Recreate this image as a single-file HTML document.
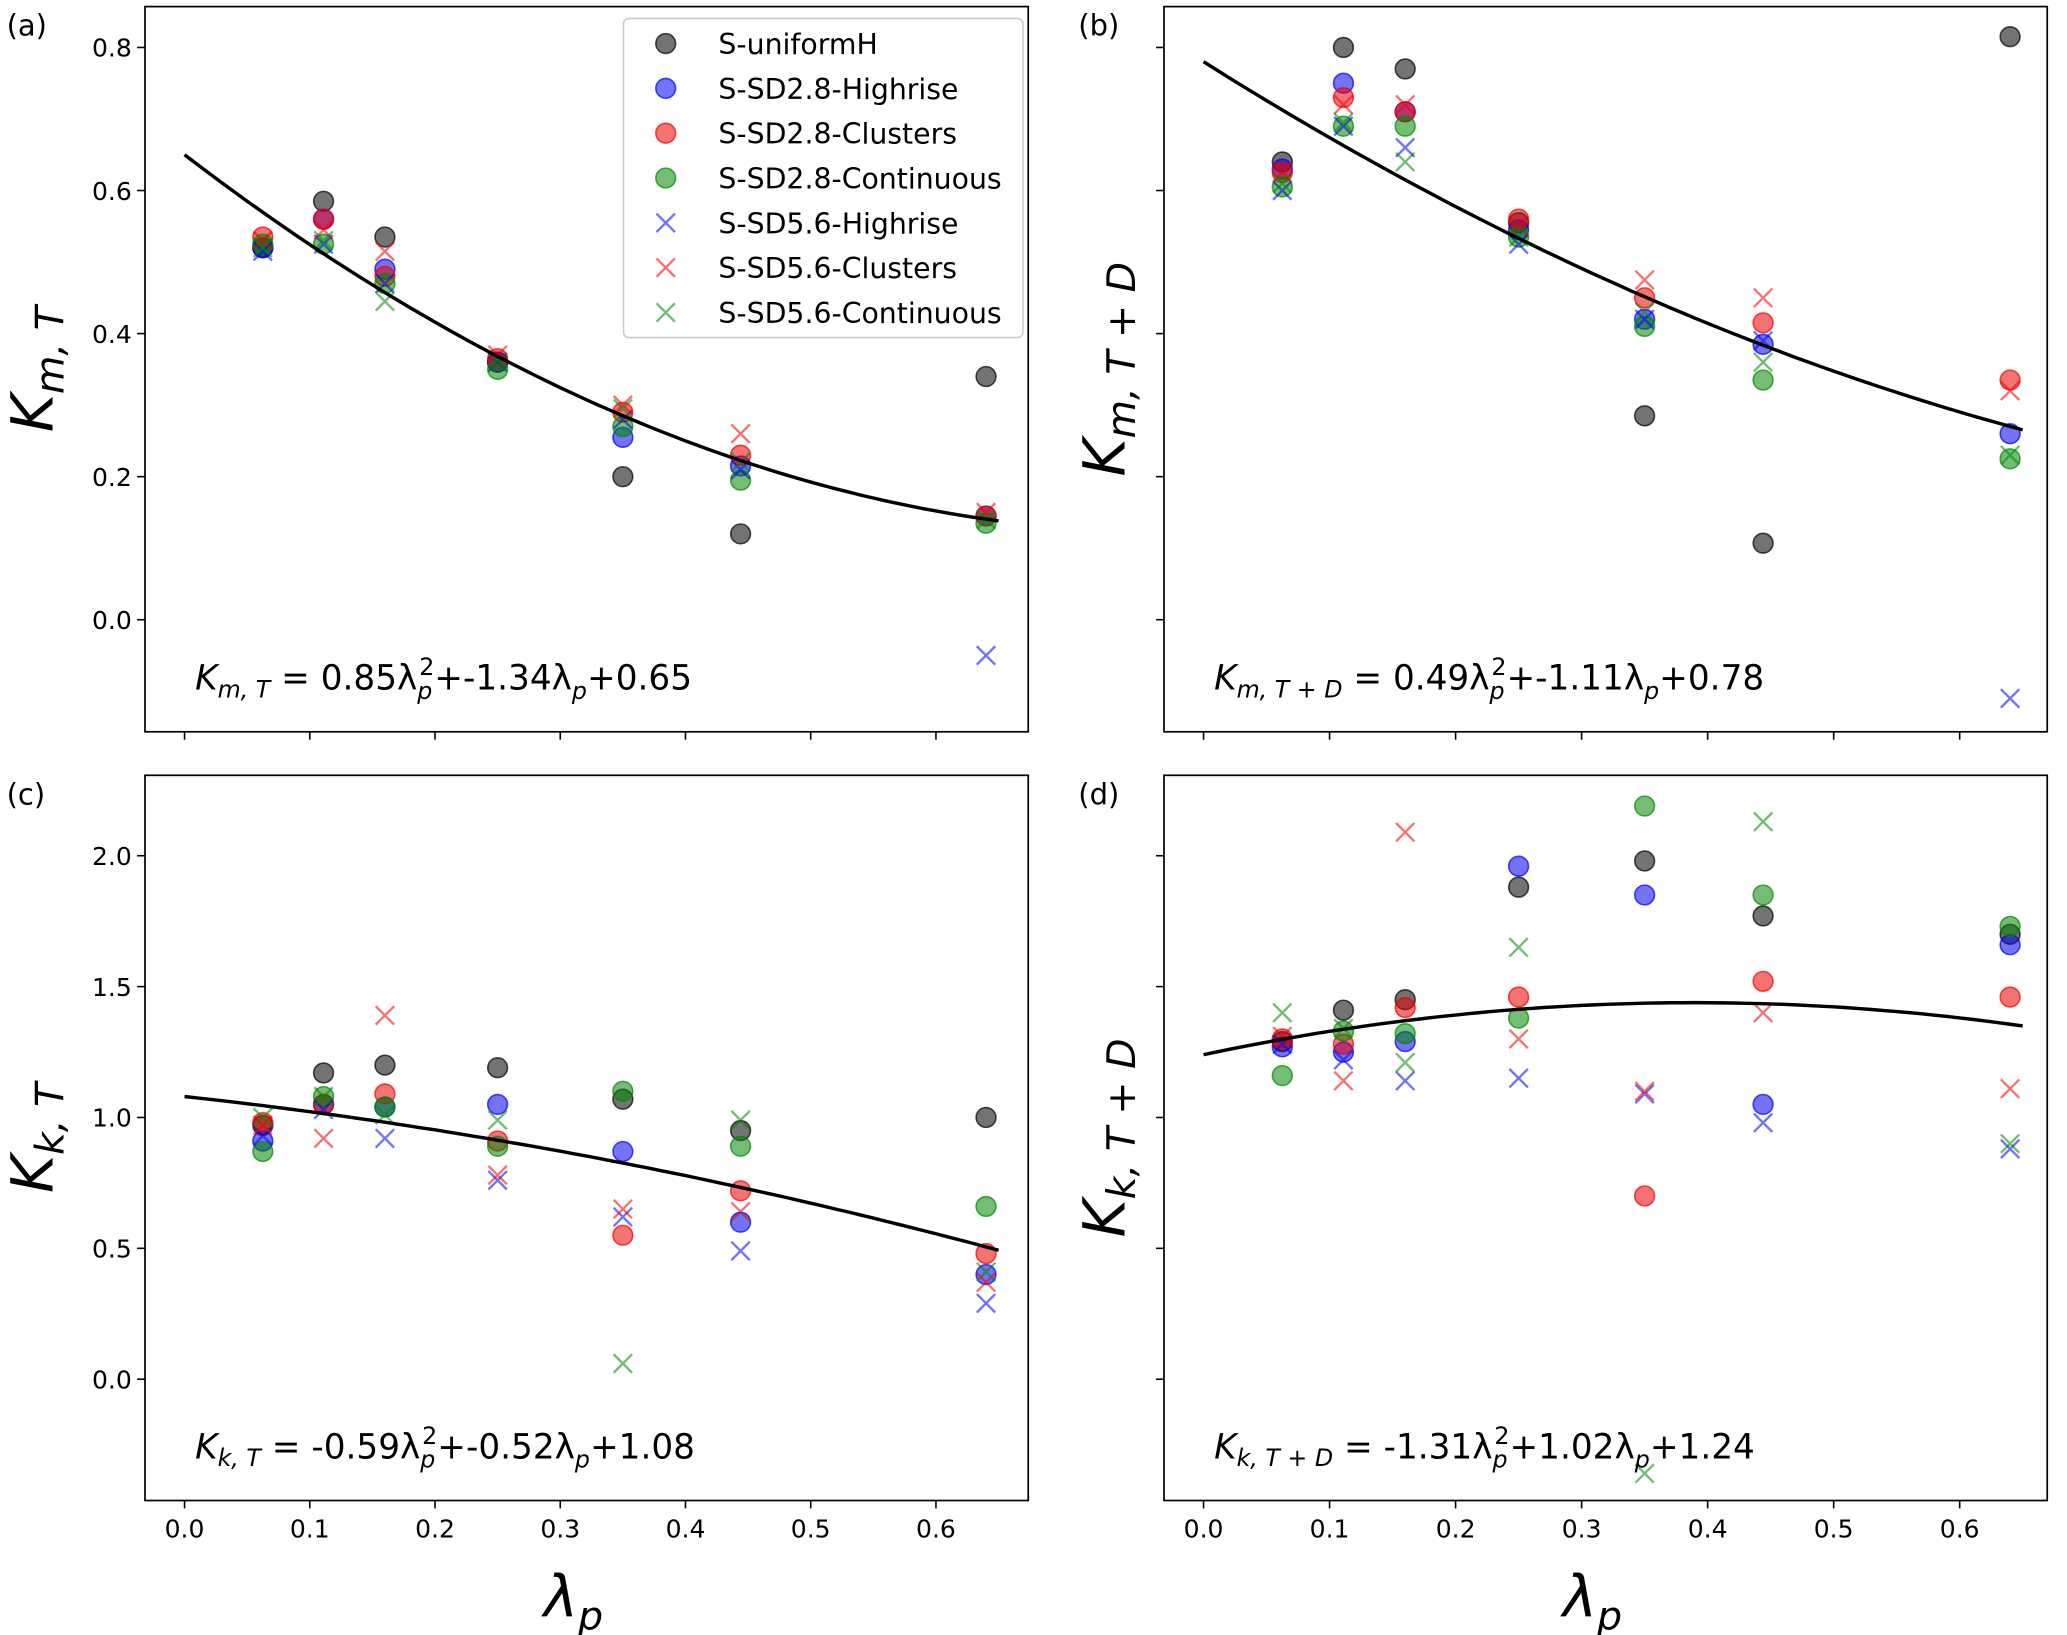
<!DOCTYPE html>
<html><head><meta charset="utf-8"><style>
body{margin:0;background:#fff}
svg{display:block;font-family:"DejaVu Sans","Liberation Sans",sans-serif}
</style></head><body>
<svg id="fig" xmlns="http://www.w3.org/2000/svg" width="2067" height="1635" viewBox="0 0 1568 1240" preserveAspectRatio="none"></svg>
<script>
const lambdas = [0.0625, 0.111, 0.16, 0.25, 0.35, 0.444, 0.64];
const seriesNames = ["S-uniformH","S-SD2.8-Highrise","S-SD2.8-Clusters","S-SD2.8-Continuous","S-SD5.6-Highrise","S-SD5.6-Clusters","S-SD5.6-Continuous"];
const seriesColors = ["#000000","#0000ee","#ee0000","#008800","#0000ee","#ee0000","#008800"];
const seriesMarkers = ["o","o","o","o","x","x","x"];
const aVals = [
 [0.52,0.585,0.535,0.36,0.20,0.12,0.34],
 [0.52,0.56,0.49,0.36,0.255,0.215,0.145],
 [0.535,0.56,0.48,0.365,0.29,0.23,0.145],
 [0.525,0.525,0.47,0.35,0.27,0.195,0.135],
 [0.515,0.525,0.47,0.36,0.28,0.21,-0.05],
 [0.53,0.545,0.515,0.37,0.30,0.26,0.15],
 [0.52,0.53,0.445,0.36,0.295,0.22,0.14]];
const bVals = [
 [0.64,0.80,0.77,0.555,0.285,0.107,0.815],
 [0.63,0.75,0.71,0.545,0.42,0.385,0.26],
 [0.625,0.73,0.71,0.56,0.45,0.415,0.335],
 [0.605,0.69,0.69,0.535,0.41,0.335,0.225],
 [0.60,0.69,0.66,0.525,0.42,0.39,-0.11],
 [0.625,0.72,0.72,0.55,0.475,0.45,0.32],
 [0.61,0.695,0.64,0.535,0.43,0.36,0.23]];
const cVals = [
 [0.97,1.17,1.20,1.19,1.07,0.95,1.00],
 [0.91,1.05,1.04,1.05,0.87,0.60,0.40],
 [0.98,1.05,1.09,0.91,0.55,0.72,0.48],
 [0.87,1.08,1.04,0.89,1.10,0.89,0.66],
 [0.93,1.03,0.92,0.76,0.62,0.49,0.29],
 [0.97,0.92,1.39,0.78,0.65,0.64,0.37],
 [1.00,1.08,1.01,0.99,0.06,0.99,0.41]];
const dVals = [
 [1.29,1.41,1.45,1.88,1.98,1.77,1.70],
 [1.27,1.25,1.29,1.96,1.85,1.05,1.66],
 [1.30,1.28,1.42,1.46,0.70,1.52,1.46],
 [1.16,1.33,1.32,1.38,2.19,1.85,1.73],
 [1.28,1.22,1.14,1.15,1.09,0.98,0.88],
 [1.31,1.14,2.09,1.30,1.10,1.40,1.11],
 [1.40,1.34,1.21,1.65,-0.36,2.13,0.90]];
const fitA = [0.85,-1.34,0.65], fitB = [0.49,-1.11,0.78], fitC = [-0.59,-0.52,1.08], fitD = [-1.31,1.02,1.24];
const xTicks = [0,0.1,0.2,0.3,0.4,0.5,0.6];
const yTicksM = [0,0.2,0.4,0.6,0.8];
const yTicksK = [0,0.5,1.0,1.5,2.0];

const NS="http://www.w3.org/2000/svg", svg=document.getElementById('fig');
function mk(tag,attrs,parent){const e=document.createElementNS(NS,tag);for(const k in attrs)e.setAttribute(k,attrs[k]);(parent||svg).appendChild(e);return e;}

const panels=[
 {id:'a',vals:aVals,fit:fitA,L:110,T:5,lx:5,x0:140,ppx:950,y0:470,ppy:542.5,yt:yTicksM,ylab:true,xlab:false,fmt:v=>v.toFixed(1),
  ytitle:['K','m, T'],eq:['K','m, T',' = 0.85λ','p','2','+-1.34λ','p','+0.65']},
 {id:'b',vals:bVals,fit:fitB,L:883,T:5,lx:818,x0:913,ppx:956,y0:470,ppy:542.5,yt:yTicksM,ylab:false,xlab:false,
  ytitle:['K','m, T + D'],eq:['K','m, T + D',' = 0.49λ','p','2','+-1.11λ','p','+0.78']},
 {id:'c',vals:cVals,fit:fitC,L:110,T:588,lx:5,x0:140,ppx:950,y0:1046,ppy:198.5,yt:yTicksK,ylab:true,xlab:true,fmt:v=>v.toFixed(1),
  ytitle:['K','k, T'],eq:['K','k, T',' = -0.59λ','p','2','+-0.52λ','p','+1.08']},
 {id:'d',vals:dVals,fit:fitD,L:883,T:588,lx:818,x0:913,ppx:956,y0:1046,ppy:198.5,yt:yTicksK,ylab:false,xlab:true,
  ytitle:['K','k, T + D'],eq:['K','k, T + D',' = -1.31λ','p','2','+1.02λ','p','+1.24']}
];
const W=670,H=550;
panels.forEach(p=>{
  const g=mk('g',{});
  
  
  const X=v=>p.x0+v*p.ppx, Y=v=>p.y0-v*p.ppy;
  const lab=mk('text',{x:p.lx,y:p.T+22,'font-size':22},g);lab.textContent='('+p.id+')';
  
  xTicks.forEach(t=>{
    mk('line',{x1:X(t),x2:X(t),y1:p.T+H,y2:p.T+H+6,stroke:'#000','stroke-width':1.2},g);
    if(p.xlab){const tx=mk('text',{x:X(t),y:p.T+H+28,'font-size':19,'text-anchor':'middle'},g);tx.textContent=t.toFixed(1);
      }
  });
  p.yt.forEach(t=>{
    mk('line',{x1:p.L-6,x2:p.L,y1:Y(t),y2:Y(t),stroke:'#000','stroke-width':1.2},g);
    if(p.ylab){const tx=mk('text',{x:p.L-10,y:Y(t)+7,'font-size':19,'text-anchor':'end'},g);tx.textContent=p.fmt(t);
      }
  });
  const yt=mk('text',{transform:`translate(${p.L-(p.ylab?70:30)},${p.T+H/2}) rotate(-90)`,'font-size':44,'text-anchor':'middle','font-style':'italic'},g);
  
  const s1=mk('tspan',{},yt);s1.textContent=p.ytitle[0];
  const s2=mk('tspan',{'font-size':30,dy:8},yt);s2.textContent=p.ytitle[1];
  if(p.xlab){const xt=mk('text',{x:p.L+W/2-10,y:p.T+H+88,'font-size':44,'font-style':'italic','text-anchor':'middle'},g);
    
    const a=mk('tspan',{},xt);a.textContent='λ';const b=mk('tspan',{'font-size':30,dy:10},xt);b.textContent='p';}
  const cp=mk('clipPath',{id:'clip'+p.id},g);mk('rect',{x:p.L,y:p.T,width:W,height:H},cp);
  const pg=mk('g',{'clip-path':`url(#clip${p.id})`},g);
  p.vals.forEach((ser,si)=>{
    ser.forEach((v,i)=>{
      const cx=X(lambdas[i]),cy=Y(v),col=seriesColors[si];
      let m;
      if(seriesMarkers[si]==='o'){m=mk('circle',{cx,cy,r:7.5,fill:col,'fill-opacity':0.55,stroke:col,'stroke-opacity':0.7,'stroke-width':1.2},pg);}
      else{m=mk('path',{d:`M${cx-7},${cy-7}L${cx+7},${cy+7}M${cx-7},${cy+7}L${cx+7},${cy-7}`,stroke:col,'stroke-opacity':0.55,'stroke-width':1.8,fill:'none'},pg);}
      
      
    });
  });
  let d='';for(let k=0;k<=65;k++){const l=k/100;const v=p.fit[0]*l*l+p.fit[1]*l+p.fit[2];d+=(k?'L':'M')+X(l).toFixed(1)+','+Y(v).toFixed(1);}
  const fc=mk('path',{d,stroke:'#000','stroke-width':2.6,fill:'none'},pg);
  
  mk('rect',{x:p.L,y:p.T,width:W,height:H,fill:'none',stroke:'#000','stroke-width':1.3},g);
  const eq=mk('text',{x:p.L+38,y:p.T+518,'font-size':26},g);
  
  const e=p.eq;
  let t=mk('tspan',{'font-style':'italic'},eq);t.textContent=e[0];
  t=mk('tspan',{'font-size':18,dy:6,'font-style':'italic'},eq);t.textContent=e[1];
  t=mk('tspan',{dy:-6},eq);t.textContent=e[2];
  t=mk('tspan',{'font-size':18,dy:7,'font-style':'italic'},eq);t.textContent=e[3];
  t=mk('tspan',{'font-size':18,dx:-10,dy:-18},eq);t.textContent=e[4];
  t=mk('tspan',{dy:11},eq);t.textContent=e[5];
  t=mk('tspan',{'font-size':18,dy:7,'font-style':'italic'},eq);t.textContent=e[6];
  t=mk('tspan',{dy:-7},eq);t.textContent=e[7];
});
const lg=mk('g',{});


mk('rect',{x:473,y:14,width:303,height:242,rx:4,fill:'#fff','fill-opacity':0.85,stroke:'#ccc','stroke-width':1.2},lg);
seriesNames.forEach((n,i)=>{
  const y=33+i*34,col=seriesColors[i],x=505;
  const e=mk('g',{},lg);
  
  
  if(seriesMarkers[i]==='o')mk('circle',{cx:x,cy:y,r:7.5,fill:col,'fill-opacity':0.55,stroke:col,'stroke-opacity':0.7,'stroke-width':1.2},e);
  else mk('path',{d:`M${x-7},${y-7}L${x+7},${y+7}M${x-7},${y+7}L${x+7},${y-7}`,stroke:col,'stroke-opacity':0.55,'stroke-width':1.8},e);
  const t=mk('text',{x:545,y:y+8,'font-size':21.5},e);t.textContent=n;
});
</script>
</body></html>
